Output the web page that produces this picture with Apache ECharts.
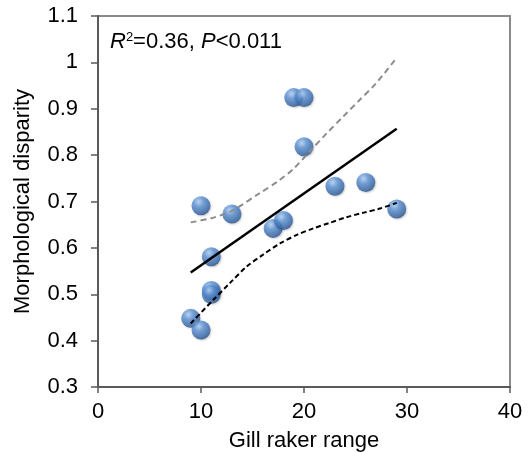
<!DOCTYPE html>
<html>
<head>
<meta charset="utf-8">
<script src="https://cdn.jsdelivr.net/npm/echarts@6/dist/echarts.min.js"></script>
<style>html,body{margin:0;padding:0;background:#fff;}#c{width:530px;height:452px;}</style>
</head>
<body>
<div id="c"></div>
<script>
// Observed points: gill raker range vs morphological disparity
const gillRaker = [10, 13, 19, 20, 20, 23, 26, 29, 17, 18, 11, 11, 11, 9, 10];
const disparity = [0.691, 0.673, 0.924, 0.924, 0.818, 0.733, 0.741, 0.684, 0.642, 0.659, 0.581, 0.508, 0.500, 0.448, 0.423];
// Regression line endpoints
const fitX = [9, 29];
const fitY = [0.547, 0.857];
// Upper confidence curve
const upperX = [9, 11, 13, 15.7, 17.5, 19, 20.6, 22.2, 23.8, 25.4, 27, 29];
const upperY = [0.655, 0.664, 0.680, 0.718, 0.744, 0.771, 0.809, 0.847, 0.883, 0.919, 0.955, 1.010];
// Lower confidence curve
const lowerX = [9, 11.2, 12.8, 14.4, 16, 17.7, 19.3, 20.9, 22.5, 24.1, 25.8, 27.4, 29];
const lowerY = [0.437, 0.488, 0.524, 0.559, 0.585, 0.610, 0.628, 0.642, 0.654, 0.666, 0.676, 0.685, 0.697];
const xTicks = [0, 10, 20, 30, 40];
const yTicks = [0.3, 0.4, 0.5, 0.6, 0.7, 0.8, 0.9, 1, 1.1];

const zip = (a, b) => a.map((v, i) => [v, b[i]]);
const font = 'Arial, "Liberation Sans", sans-serif';
const axisColor = '#5a5a5a';

const chart = echarts.init(document.getElementById('c'), null, {renderer: 'canvas'});
chart.setOption({
  animation: false,
  backgroundColor: '#fff',
  grid: {left: 98, right: 20, top: 16, bottom: 65, show: true, borderColor: '#8a8a8a', borderWidth: 2,
    containLabel: false, outerBoundsMode: 'none'},
  xAxis: {
    type: 'value', min: xTicks[0], max: xTicks[xTicks.length - 1], interval: 10,
    name: 'Gill raker range', nameLocation: 'middle', nameGap: 43,
    nameTextStyle: {fontFamily: font, fontSize: 22, color: '#000'},
    axisLine: {show: true, lineStyle: {color: axisColor, width: 2}},
    axisTick: {show: true, inside: false, length: 6, lineStyle: {color: axisColor, width: 1.5}},
    axisLabel: {fontFamily: font, fontSize: 22, color: '#000', margin: 14},
    splitLine: {show: false}
  },
  yAxis: {
    type: 'value', min: yTicks[0], max: yTicks[yTicks.length - 1], interval: 0.1,
    name: 'Morphological disparity', nameLocation: 'middle', nameGap: 64,
    nameTextStyle: {fontFamily: font, fontSize: 22, color: '#000'},
    axisLine: {show: true, lineStyle: {color: axisColor, width: 2}},
    axisTick: {show: true, inside: false, length: 7, lineStyle: {color: axisColor, width: 1.5}},
    axisLabel: {fontFamily: font, fontSize: 22, color: '#000', margin: 20,
      formatter: v => String(Math.round(v * 10) / 10)},
    splitLine: {show: false}
  },
  graphic: [{
    type: 'text', left: 110, top: 31, z: 100,
    style: {
      text: '{i|R}{s|2}{n|=0.36, }{i|P}{n|<0.011}',
      rich: {
        i: {fontFamily: font, fontSize: 22, fontStyle: 'italic', fill: '#000', verticalAlign: 'bottom'},
        n: {fontFamily: font, fontSize: 22, fill: '#000', verticalAlign: 'bottom'},
        s: {fontFamily: font, fontSize: 13, fill: '#000', verticalAlign: 'top', padding: [0, 0, 9, 0]}
      }
    }
  }],
  series: [
    {
      type: 'scatter', data: zip(gillRaker, disparity), symbol: 'circle', symbolSize: 19, z: 2,
      itemStyle: {
        color: {type: 'radial', x: 0.38, y: 0.3, r: 0.75,
          colorStops: [{offset: 0, color: '#b5d3f7'}, {offset: 0.35, color: '#5c93d6'}, {offset: 0.8, color: '#3566a8'}, {offset: 1, color: '#244b80'}]},
        shadowColor: 'rgba(0,0,0,0.25)', shadowBlur: 2, shadowOffsetX: 1, shadowOffsetY: 1
      }
    },
    {
      type: 'line', data: zip(fitX, fitY), showSymbol: false, z: 5,
      lineStyle: {color: '#000', width: 2.5, type: 'solid'}
    },
    {
      type: 'line', data: zip(upperX, upperY), showSymbol: false, smooth: 0.3, z: 5,
      lineStyle: {color: '#8c8c8c', width: 2, type: [6, 4]}
    },
    {
      type: 'line', data: zip(lowerX, lowerY), showSymbol: false, smooth: 0.3, z: 5,
      lineStyle: {color: '#000', width: 2, type: [5, 3]}
    }
  ]
});
</script>
</body>
</html>
